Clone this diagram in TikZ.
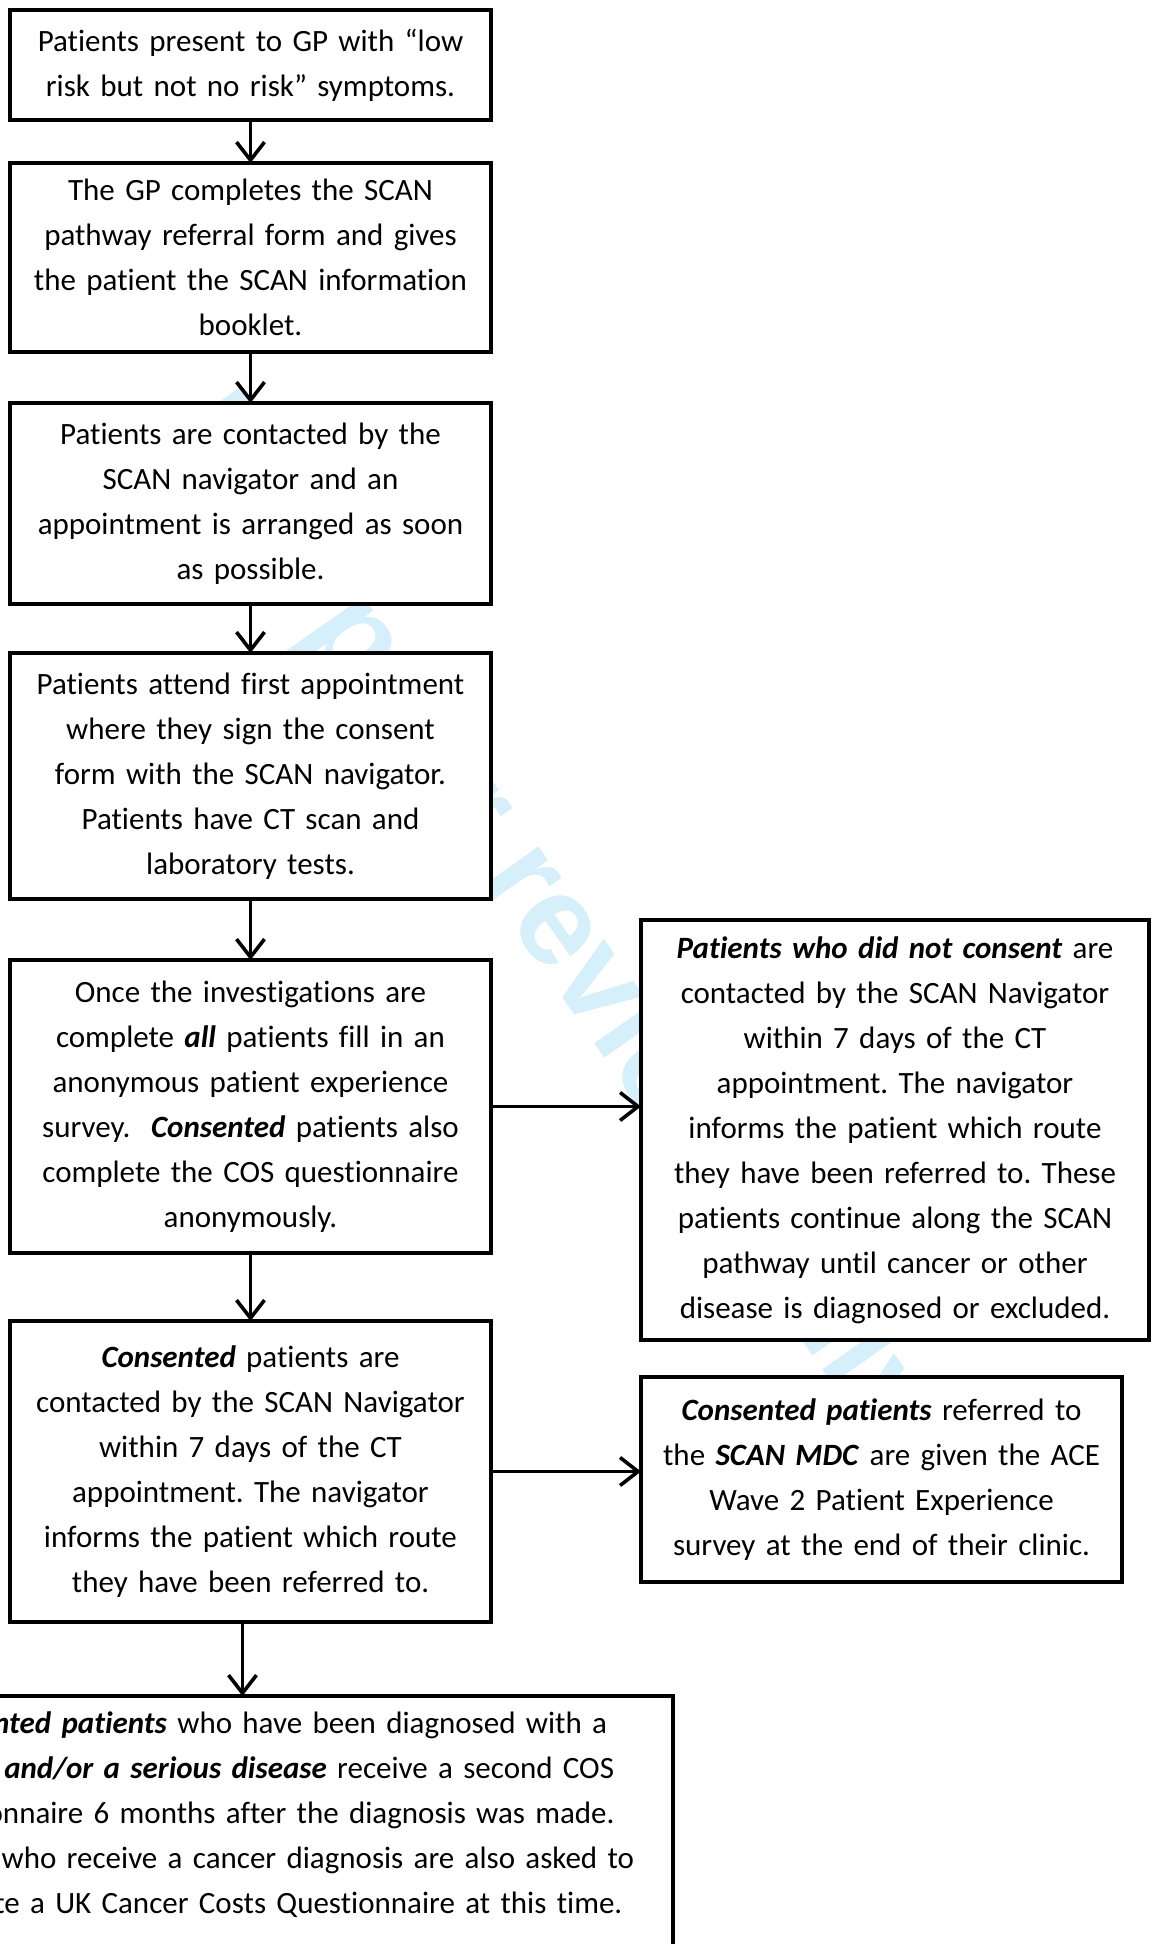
\documentclass[tikz,border=0pt]{standalone}
\usepackage{fontspec}
\setmainfont{Carlito}[Ligatures=NoCommon]
\newfontfamily\markfont{Liberation Sans}
\usetikzlibrary{arrows.meta,positioning}
\definecolor{ink}{HTML}{000000}
\definecolor{wmblue}{HTML}{D5EFFB}
\newcommand{\bfit}[1]{\textbf{\textit{#1}}}
\frenchspacing
\tikzset{
  stepbox/.style={draw=ink,line width=2pt,fill=white,align=center,font=\fontsize{15.5}{22.5}\selectfont,text width=236pt,minimum width=240.5pt,inner sep=2pt,outer sep=0pt},
  widebox/.style={stepbox,text width=250pt,minimum width=254pt},
  arrow/.style={-{Straight Barb[length=9pt,width=14pt]},line width=1.8pt,draw=ink},
  wmtext/.style={text=wmblue,font=\fontsize{64}{70}\selectfont\markfont\bfseries,inner sep=0pt}
}
\begin{document}
\begin{tikzpicture}[x=0.5pt,y=-0.5pt]
  \useasboundingbox (0,0) rectangle (1152,1944);
  \clip (0,0) rectangle (1152,1944);
  % watermark behind the boxes
  \node[wmtext,rotate=-55] (wm) at (549,921) {For peer review only};
  % main column
  \node[stepbox,minimum height=55pt,anchor=north] (present) at (250.5,10)
    {Patients present to GP with “low\\risk but not no risk” symptoms.};
  \node[stepbox,minimum height=94.5pt,below=21.5pt of present] (refer)
    {The GP completes the SCAN\\pathway referral form and gives\\the patient the SCAN information\\booklet.};
  \node[stepbox,minimum height=100.5pt,below=25.5pt of refer] (contact)
    {Patients are contacted by the\\SCAN navigator and an\\appointment is arranged as soon\\as possible.};
  \node[stepbox,minimum height=123pt,below=24.5pt of contact] (attend)
    {Patients attend first appointment\\where they sign the consent\\form with the SCAN navigator.\\Patients have CT scan and\\laboratory tests.};
  \node[stepbox,minimum height=146.5pt,below=30.5pt of attend] (survey)
    {Once the investigations are\\complete \bfit{all} patients fill in an\\anonymous patient experience\\survey.\ \ \bfit{Consented} patients also\\complete the COS questionnaire\\anonymously.};
  \node[stepbox,minimum height=150.5pt,below=34pt of survey] (navig)
    {\bfit{Consented} patients are\\contacted by the SCAN Navigator\\within 7 days of the CT\\appointment. The navigator\\informs the patient which route\\they have been referred to.};
  \node[stepbox,text width=407pt,minimum width=411pt,inner ysep=8pt,text depth=150pt,anchor=north] (followup) at (262,1696)
    {\bfit{Consented patients} who have been diagnosed with a\\\bfit{cancer and/or a serious disease} receive a second COS\\questionnaire 6 months after the diagnosis was made.\\Patients who receive a cancer diagnosis are also asked to\\complete a UK Cancer Costs Questionnaire at this time.};
  % side boxes
  \node[widebox,minimum height=210pt,anchor=north west] (noconsent) at (641,920)
    {\bfit{Patients who did not consent} are\\contacted by the SCAN Navigator\\within 7 days of the CT\\appointment. The navigator\\informs the patient which route\\they have been referred to. These\\patients continue along the SCAN\\pathway until cancer or other\\disease is diagnosed or excluded.};
  \node[stepbox,minimum height=102.5pt,anchor=north west] (mdc) at (641,1377)
    {\bfit{Consented patients} referred to\\the \bfit{SCAN MDC} are given the ACE\\Wave 2 Patient Experience\\survey at the end of their clinic.};
  % connectors
  \draw[arrow] (present) -- (refer);
  \draw[arrow] (refer) -- (contact);
  \draw[arrow] (contact) -- (attend);
  \draw[arrow] (attend) -- (survey);
  \draw[arrow] (survey) -- (navig);
  \draw[arrow] ([xshift=-4pt]navig.south) -- ([xshift=-4pt]navig.south |- followup.north);
  \draw[arrow] (survey.east) -- (survey.east -| noconsent.west);
  \draw[arrow] (navig.east) -- (navig.east -| mdc.west);
\end{tikzpicture}
\end{document}
